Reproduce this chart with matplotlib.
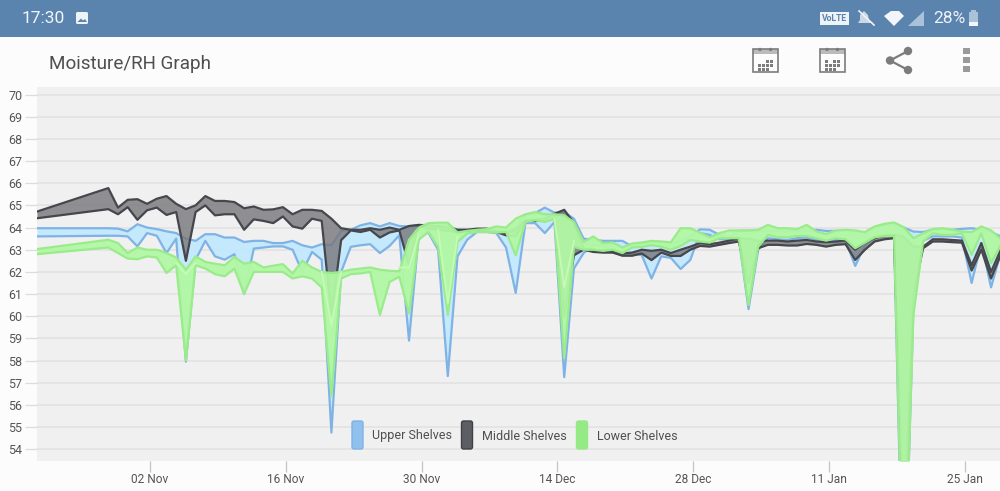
import numpy as np
import pandas as pd
import matplotlib
matplotlib.use('Agg')
import matplotlib.pyplot as plt
import matplotlib.dates as mdates
from matplotlib.patches import Rectangle, FancyBboxPatch, Polygon, Circle

plt.rcParams['font.family'] = ['Roboto', 'DejaVu Sans']

# first sample, then one sample a day
first_date = pd.Timestamp('2018-10-21 08:24')
daily_dates = pd.date_range('2018-10-28 16:48', periods=93, freq='D')
dates = [first_date] + list(daily_dates)

upper_hi = [63.97,
            63.97, 63.95, 63.83, 64.15, 64.0, 63.93, 63.83, 63.75, 63.5, 63.4,
            63.7, 63.7, 63.55, 63.55, 63.35, 63.4, 63.4, 63.3, 63.3, 63.4,
            63.2, 63.1, 63.25, 63.2, 63.85, 63.9, 64.1, 64.2, 64.05, 64.2,
            64.07, 64.05, 64.1, 63.9, 64.1, 64.1, 63.9, 63.9, 63.9, 63.9,
            63.85, 63.85, 64.0, 64.55, 64.65, 64.9, 64.67, 64.7, 64.4, 63.5,
            63.45, 63.4, 63.4, 63.4, 63.15, 63.3, 63.35, 63.35, 63.3, 63.4,
            63.6, 63.92, 63.9, 63.67, 63.55, 63.85, 63.85, 63.85, 63.85, 63.85,
            63.85, 63.85, 63.85, 63.9, 63.85, 63.85, 63.85, 63.8, 63.75, 64.0,
            64.1, 64.15, 64.0, 63.82, 63.8, 63.9, 63.9, 63.9, 63.94, 63.97,
            63.9, 63.8, 63.6]
upper_lo = [63.6,
            63.63, 63.63, 63.6, 63.15, 63.75, 63.63, 62.85, 63.5, 57.95, 62.55,
            63.4, 62.7, 62.55, 62.8, 61.0, 63.05, 63.1, 63.15, 63.15, 63.0,
            62.0, 62.9, 62.55, 54.75, 62.0, 63.13, 63.2, 63.25, 62.85, 63.17,
            63.65, 58.9, 63.65, 63.77, 63.0, 57.3, 62.7, 63.45, 63.8, 63.8,
            63.75, 63.1, 61.05, 64.2, 64.2, 63.75, 64.25, 57.25, 62.15, 62.85,
            63.2, 63.2, 62.9, 62.85, 62.85, 62.75, 61.7, 62.7, 62.63, 62.13,
            62.54, 63.75, 63.67, 63.47, 63.47, 63.52, 60.32, 63.0, 63.52, 63.47,
            63.44, 63.52, 63.55, 63.45, 63.4, 63.45, 63.4, 62.27, 63.2, 63.56,
            63.6, 63.6, 45.5, 60.5, 63.4, 63.6, 63.6, 63.6, 63.55, 61.5,
            63.3, 61.3, 62.85]
middle_hi = [64.72,
             65.78, 64.9, 65.25, 65.28, 65.07, 65.3, 65.42, 65.07, 64.83, 65.0,
             65.42, 65.2, 65.2, 65.15, 64.87, 64.95, 64.8, 64.82, 64.92, 64.6,
             64.8, 64.8, 64.75, 64.4, 63.97, 63.9, 63.9, 63.97, 63.9, 64.0,
             63.9, 64.07, 64.12, 64.1, 64.05, 64.0, 63.9, 63.9, 63.95, 63.95,
             63.85, 63.75, 63.9, 64.33, 64.35, 64.4, 64.62, 64.8, 64.2, 63.05,
             63.0, 62.95, 62.95, 62.83, 62.87, 63.0, 62.95, 63.0, 62.85, 63.0,
             63.14, 63.3, 63.25, 63.32, 63.41, 63.5, 63.5, 63.4, 63.41, 63.41,
             63.37, 63.41, 63.44, 63.37, 63.34, 63.37, 63.41, 63.0, 63.32, 63.52,
             63.64, 63.67, 63.6, 63.14, 63.14, 63.47, 63.47, 63.44, 63.41, 62.3,
             63.3, 62.0, 63.0]
middle_lo = [64.42,
             64.83, 64.6, 64.92, 64.35, 64.78, 64.9, 64.57, 64.7, 62.5, 64.7,
             65.0, 64.55, 64.6, 64.6, 63.9, 64.37, 64.3, 64.2, 64.5, 64.05,
             63.95, 64.4, 64.3, 60.0, 63.43, 63.87, 63.8, 63.9, 63.55, 63.78,
             63.87, 62.3, 64.1, 63.95, 63.9, 63.85, 63.8, 63.85, 63.87, 63.87,
             63.8, 63.65, 63.6, 64.3, 64.3, 64.35, 64.6, 60.0, 62.75, 63.0,
             62.9, 62.87, 62.87, 62.73, 62.73, 62.83, 62.53, 62.87, 62.72, 62.72,
             63.0, 63.17, 63.14, 63.22, 63.3, 63.37, 61.5, 63.07, 63.22, 63.22,
             63.19, 63.19, 63.26, 63.22, 63.14, 63.22, 63.25, 62.54, 63.0, 63.37,
             63.47, 63.52, 50.0, 61.0, 63.07, 63.37, 63.37, 63.34, 63.32, 62.06,
             63.0, 61.7, 62.77]
lower_hi = [63.03,
            63.45, 63.3, 62.85, 63.1, 63.0, 63.0, 62.85, 62.65, 62.1, 62.7,
            62.45, 62.37, 62.3, 62.67, 62.37, 62.45, 62.2, 62.28, 62.35, 61.93,
            62.5, 62.2, 62.0, 61.95, 62.0, 62.1, 62.15, 62.2, 62.1, 62.05,
            62.03, 63.45, 64.0, 64.2, 64.22, 64.22, 63.78, 63.85, 63.9, 63.93,
            64.05, 64.0, 64.4, 64.6, 64.7, 64.6, 64.6, 64.55, 64.25, 63.35,
            63.6, 63.3, 63.33, 63.1, 63.28, 63.33, 63.4, 63.37, 63.34, 63.97,
            63.97, 63.77, 63.56, 63.75, 63.87, 63.87, 63.87, 63.9, 64.12, 63.97,
            63.97, 63.93, 64.12, 63.82, 63.71, 63.87, 63.9, 63.87, 63.8, 64.05,
            64.17, 64.23, 64.02, 63.52, 63.74, 63.94, 63.97, 63.9, 63.82, 63.79,
            64.05, 63.87, 63.5]
lower_lo = [62.8,
            63.1, 62.85, 62.6, 62.57, 62.7, 62.65, 61.95, 62.3, 58.0, 62.3,
            62.15, 61.9, 61.8, 62.15, 61.0, 62.0, 62.0, 62.0, 62.0, 61.7,
            61.8, 61.7, 61.3, 56.4, 61.7, 61.9, 61.93, 62.0, 60.05, 61.55,
            61.78, 60.13, 63.45, 63.8, 63.13, 60.05, 63.35, 63.73, 63.8, 63.8,
            63.77, 63.8, 62.75, 64.25, 64.33, 64.25, 64.4, 58.1, 63.13, 63.0,
            63.0, 62.95, 63.0, 62.85, 63.1, 63.13, 63.2, 63.14, 63.0, 63.17,
            63.44, 63.37, 63.32, 63.52, 63.52, 63.52, 60.5, 63.14, 63.67, 63.56,
            63.56, 63.62, 63.62, 63.52, 63.41, 63.52, 63.47, 63.07, 63.32, 63.56,
            63.62, 63.62, 46.5, 60.05, 63.37, 63.74, 63.67, 63.67, 63.74, 62.77,
            63.74, 62.4, 63.2]

# pale inner line seen inside the green dips, sample index -> value
inner_index = [8, 9, 10, None, 23, 24, 25, None, 31, 32, 33, None, 35, 36, 37, None, 47, 48, 49]
inner_values = [62.4, 61.9, 62.4, None, 62.0, 59.6, 62.0, None, 62.2, 62.2, 63.7, None, 63.9, 60.6, 63.6, None, 64.4, 61.3, 63.4]

ytick_values = list(range(54, 71))
xtick_dates = pd.date_range('2018-11-02', periods=7, freq='14D')
legend_names = ['Upper Shelves', 'Middle Shelves', 'Lower Shelves']


def px_rect(x0, y0, x1, y1):
    return [x0 / 1000, 1 - y1 / 491, (x1 - x0) / 1000, (y1 - y0) / 491]


fig = plt.figure(figsize=(10, 4.91), dpi=100, facecolor='#fcfcfc')

ax = fig.add_axes(px_rect(37, 87, 1000, 461), facecolor='#f0f0f0')

x_num = mdates.date2num(dates)

# bands
ax.fill_between(x_num, upper_lo, upper_hi, color='#c2e8fd', alpha=0.95, lw=0, zorder=2)
ax.plot(x_num, upper_hi, color='#7fb2e5', lw=1.6, zorder=3)
ax.plot(x_num, upper_lo, color='#7fb2e5', lw=1.6, zorder=3)
ax.fill_between(x_num, middle_lo, middle_hi, color='#77777b', alpha=0.8, lw=0, zorder=4)
ax.plot(x_num, middle_hi, color='#45474d', lw=1.6, zorder=5)
ax.plot(x_num, middle_lo, color='#45474d', lw=1.6, zorder=5)
ax.fill_between(x_num, lower_lo, lower_hi, color='#b2f8a4', alpha=0.95, lw=0, zorder=6)
ax.plot(x_num, lower_hi, color='#9aec8b', lw=1.6, zorder=7)
ax.plot(x_num, lower_lo, color='#9aec8b', lw=1.6, zorder=7)

inner_x = [x_num[i] if i is not None else np.nan for i in inner_index]
inner_y = [v if v is not None else np.nan for v in inner_values]
ax.plot(inner_x, inner_y, color='#c6fab6', lw=1.3, zorder=8)

ax.set_xlim(mdates.date2num(pd.Timestamp('2018-10-21 08:24')), mdates.date2num(pd.Timestamp('2019-01-28 15:00')))
ax.set_ylim(53.47, 70.34)
ax.set_yticks(ytick_values)
ax.set_xticks(mdates.date2num(xtick_dates))
ax.xaxis.set_major_formatter(mdates.DateFormatter('%d %b'))
ax.grid(True, axis='y', color='#e2e2e2', lw=1.2, zorder=1)
ax.grid(False, axis='x')
ax.set_axisbelow(True)
for s in ax.spines.values():
    s.set_visible(False)
ax.tick_params(axis='y', length=8.5, width=0.9, color='#dcdcdc', labelsize=9, labelcolor='#555555', pad=2)
ax.tick_params(axis='x', length=8, width=0.9, color='#c4c4c4', labelsize=8.6, labelcolor='#555555', pad=0.5)

# overlay in pixel coordinates for the phone chrome and the legend
ov = fig.add_axes([0, 0, 1, 1], zorder=10)
ov.set_xlim(0, 1000)
ov.set_ylim(491, 0)
ov.axis('off')

ov.add_patch(Rectangle((0, 0), 1000, 37, fc='#5a84ae', ec='none'))
ov.text(22, 18.5, '17:30', color='#f2f6fa', fontsize=12.5, va='center', ha='left')
ov.add_patch(FancyBboxPatch((76, 12), 12, 12, boxstyle='round,pad=0,rounding_size=1.5', fc='#eef3f8', ec='none'))
ov.add_patch(Polygon([(77.5, 22), (81, 18.5), (83, 20.5), (85, 19), (87, 22)], fc='#5a84ae', ec='none'))

# status icons
ov.add_patch(Rectangle((820, 12), 29, 13, fc='#eef3f8', ec='none'))
ov.text(834.5, 18.7, 'VoLTE', color='#5a84ae', fontsize=6.2, fontweight='bold', ha='center', va='center')
ov.add_patch(Polygon([(858, 23), (860, 20), (860, 15), (864, 11), (868, 15), (869, 20), (873, 23)], fc='#cbd9e7', ec='none'))
ov.plot([859, 874], [11, 25], color='#eef3f8', lw=1.2)
ov.add_patch(Polygon([(884, 16), (891, 11), (899, 11), (904, 16), (894, 26)], fc='#f2f6fa', ec='none'))
ov.add_patch(Polygon([(908, 26), (924, 11), (924, 26)], fc='#a9c1d9', ec='none'))
ov.text(933, 18.5, '28%', color='#eef3f8', fontsize=12.5, va='center', ha='left')
ov.add_patch(Rectangle((969, 12), 9, 14, fc='#a9c1d9', ec='none'))
ov.add_patch(Rectangle((971, 10), 5, 2, fc='#a9c1d9', ec='none'))
ov.add_patch(Rectangle((969, 22), 9, 4, fc='#f2f6fa', ec='none'))

# toolbar
ov.text(49, 63.5, 'Moisture/RH Graph', color='#4f4f4f', fontsize=13.6, va='center', ha='left')
icon_grey = '#7c7c7c'
for x0, cells in [(753, [(758, 64), (762, 64), (766, 64), (770, 64), (766, 60), (770, 60), (758, 68), (762, 68), (766, 68)]),
                  (820, [(825, 60), (829, 64), (833, 60), (837, 60), (825, 64), (833, 64), (837, 64), (825, 68), (829, 68), (833, 68)])]:
    ov.add_patch(Rectangle((x0, 49), 24.5, 23, fc='none', ec=icon_grey, lw=1.2))
    ov.add_patch(Rectangle((x0, 49), 24.5, 5, fc=icon_grey, ec='none', alpha=0.5))
    ov.add_patch(Circle((x0 + 7, 49.5), 1.7, fc=icon_grey, ec='none'))
    ov.add_patch(Circle((x0 + 17.5, 49.5), 1.7, fc=icon_grey, ec='none'))
    for cx, cy in cells:
        ov.add_patch(Rectangle((cx, cy), 3, 3, fc=icon_grey, ec='none'))
ov.plot([908, 890, 908], [51, 60.5, 70], color=icon_grey, lw=1.6)
for cx, cy in [(908, 51), (890, 60.5), (908, 70)]:
    ov.add_patch(Circle((cx, cy), 4.2, fc=icon_grey, ec='none'))
for cy in [51, 60, 69]:
    ov.add_patch(Rectangle((963, cy - 3), 7, 6, fc='#9a9a9a', ec='none'))

# legend
legend_x = [352, 461.5, 576.5]
legend_fc = ['#8fc0ee', '#5c5e64', '#95ea86']
legend_ec = ['#7fb2e5', '#3f4146', '#95ea86']
legend_tx = [372, 482, 597]
for name, x0, fc, ec, tx in zip(legend_names, legend_x, legend_fc, legend_ec, legend_tx):
    ov.add_patch(FancyBboxPatch((x0, 421), 11, 28, boxstyle='round,pad=0,rounding_size=2', fc=fc, ec=ec, lw=1))
    ov.text(tx, 436, name, color='#4f4f4f', fontsize=9, va='center', ha='left')

fig.savefig('out.png', dpi=100, facecolor=fig.get_facecolor())
